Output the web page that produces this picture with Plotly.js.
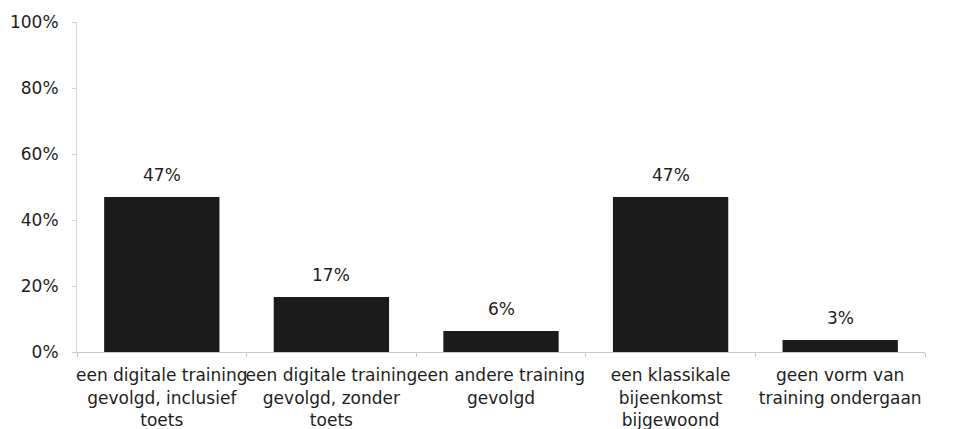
<!DOCTYPE html>
<html>
<head>
<meta charset="utf-8">
<script src="https://cdn.plot.ly/plotly-3.0.1.min.js"></script>
<style>html,body{margin:0;padding:0;background:#fff;}#chart{width:955px;height:429px;}</style>
</head>
<body>
<div id="chart"></div>
<script>
var categories = [
  "een digitale training<br>gevolgd, inclusief<br>toets",
  "een digitale training<br>gevolgd, zonder<br>toets",
  "een andere training<br>gevolgd",
  "een klassikale<br>bijeenkomst<br>bijgewoond",
  "geen vorm van<br>training ondergaan"
];
var values = [47, 16.7, 6.4, 47, 3.6];
var valueLabels = ["47%", "17%", "6%", "47%", "3%"];
var yTickValues = [0, 20, 40, 60, 80, 100];
var yTickLabels = ["0%", "20%", "40%", "60%", "80%", "100%"];

var fontFamily = "DejaVu Sans, Liberation Sans, Arial, sans-serif";
var textColor = "#1e1e1e";

var trace = {
  type: "bar",
  x: categories,
  y: values,
  marker: {color: "#1b1b1b", line: {width: 0}},
  hoverinfo: "none"
};

var annotations = categories.map(function (c, i) {
  return {
    x: c, y: values[i], xref: "x", yref: "y",
    text: valueLabels[i], showarrow: false,
    yanchor: "bottom", yshift: 10,
    font: {family: fontFamily, size: 17, color: textColor}
  };
});

var layout = {
  width: 955, height: 429,
  margin: {l: 77, r: 30, t: 22, b: 77},
  paper_bgcolor: "#fff", plot_bgcolor: "#fff",
  showlegend: false,
  bargap: 0.32,
  font: {family: fontFamily, size: 17, color: textColor},
  xaxis: {
    type: "category",
    showline: true, linecolor: "#c8c8c8", linewidth: 1,
    ticks: "outside", tickson: "boundaries", ticklen: 4, tickcolor: "#c8c8c8",
    ticklabelstandoff: 8,
    showgrid: false, zeroline: false,
    tickfont: {family: fontFamily, size: 17, color: textColor},
    tickangle: 0
  },
  yaxis: {
    range: [0, 100],
    tickvals: yTickValues, ticktext: yTickLabels,
    showline: true, linecolor: "#d8d8d8", linewidth: 1,
    ticks: "outside", ticklen: 4, tickcolor: "#d0d0d0",
    ticklabelstandoff: 10,
    showgrid: false, zeroline: false,
    tickfont: {family: fontFamily, size: 17, color: textColor}
  },
  annotations: annotations
};

Plotly.newPlot("chart", [trace], layout, {staticPlot: true, displayModeBar: false});
</script>
</body>
</html>
